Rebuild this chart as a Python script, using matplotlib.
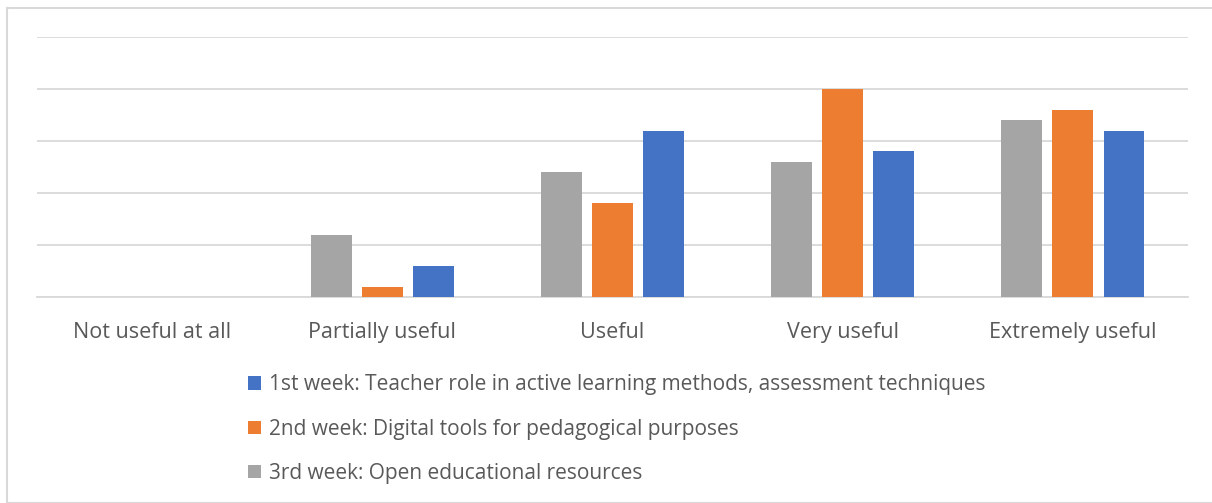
import matplotlib
matplotlib.use("Agg")
import matplotlib.pyplot as plt
import numpy as np
from matplotlib.patches import Rectangle

categories = ["Not useful at all", "Partially useful", "Useful", "Very useful", "Extremely useful"]
week3 = [0, 6, 12, 13, 17]
week2 = [0, 1, 9, 20, 18]
week1 = [0, 3, 16, 14, 16]
labels = ["1st week: Teacher role in active learning methods, assessment techniques",
          "2nd week: Digital tools for pedagogical purposes",
          "3rd week: Open educational resources"]
colors = {"w1": "#4472C4", "w2": "#ED7D31", "w3": "#A5A5A5"}

plt.rcParams['font.family'] = ['Open Sans', 'DejaVu Sans']
W, H = 1212, 503
fig = plt.figure(figsize=(W / 100, H / 100), dpi=100)
fig.patches.append(Rectangle((7 / W, 0), 1.2, 1 - 8 / H, transform=fig.transFigure,
                             fill=False, edgecolor="#D9D9D9", linewidth=1.5))
ax = fig.add_axes([37 / W, 1 - 297 / H, (1188 - 37) / W, (297 - 37) / H])
x = np.arange(len(categories))
bw = 0.178
off = 0.222
b3 = ax.bar(x - off, week3, bw, color=colors["w3"], zorder=3)
b2 = ax.bar(x, week2, bw, color=colors["w2"], zorder=3)
b1 = ax.bar(x + off, week1, bw, color=colors["w1"], zorder=3)
ax.set_xlim(-0.5, len(categories) - 0.5)
ax.set_ylim(0, 25)
ax.set_yticks(np.arange(0, 26, 5))
ax.yaxis.grid(True, color="#D9D9D9", linewidth=1.3, zorder=0)
ax.set_yticklabels([])
ax.tick_params(axis="y", length=0)
ax.tick_params(axis="x", length=0, pad=18, labelsize=15.5, labelcolor="#595959")
ax.set_xticks(x)
ax.set_xticklabels(categories)
for s in ["top", "right", "left"]:
    ax.spines[s].set_visible(False)
ax.spines["bottom"].set_color("#D9D9D9")
ax.spines["bottom"].set_linewidth(1.3)

leg = fig.legend([b1, b2, b3], labels, loc="upper left",
                 bbox_to_anchor=(238 / W, 1 - 364 / H), frameon=False,
                 fontsize=15, labelcolor="#595959", handlelength=0.6, handleheight=0.6,
                 handletextpad=0.4, labelspacing=1.12, borderpad=0)
fig.savefig("out.png", dpi=100)
